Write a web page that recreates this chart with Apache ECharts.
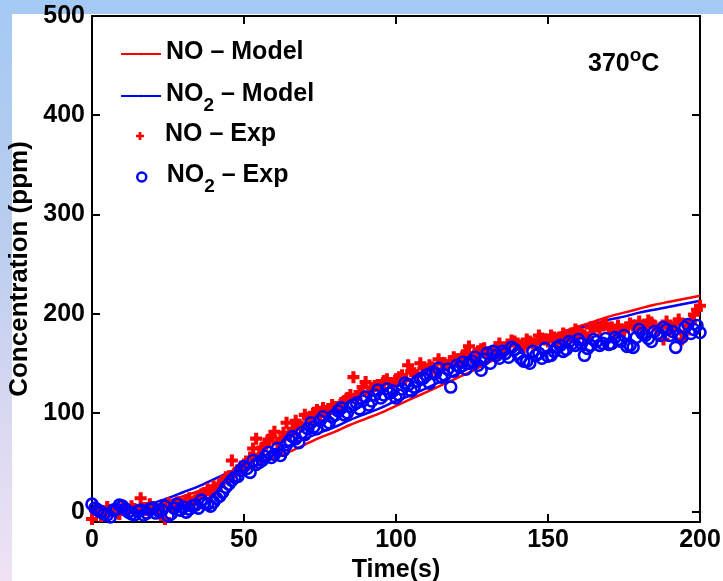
<!DOCTYPE html>
<html><head><meta charset="utf-8">
<script src="https://cdn.jsdelivr.net/npm/echarts@6/dist/echarts.min.js"></script>
<style>
html,body{margin:0;padding:0;width:723px;height:581px;overflow:hidden;}
body{background:linear-gradient(to bottom,#a4c9f4 0%,#b9cdee 40%,#dcd9f2 75%,#efe2f4 100%);}
#panel{position:absolute;left:12px;top:14px;right:0;bottom:0;background:#fff;}
#chart{position:absolute;left:0;top:0;width:723px;height:581px;}
</style></head><body><div id="panel"></div><div id="chart"></div>
<script>
// ---- data ----
const xTicks = [0, 50, 100, 150, 200];
const yTicks = [0, 100, 200, 300, 400, 500];

const modelTime = [0,5,10,15,20,25,30,35,40,45,50,55,60,65,70,75,80,85,90,95,100,105,110,115,120,125,130,135,140,145,150,155,160,165,170,175,180,185,190,195,200];
const noModel   = [0,0,0.5,2,6,11,16,21,27,34,41,48,55,61,68,75,81,88,94,100,107,114,121,128,135,142,150,157,164,170,176,182,187,192,197,201,205,209,212,215,218];
const no2Model  = [0,0.5,1.5,4,9,14,20,26,33,40,47,54,61,67,74,80,86,93,99,105,112,118,125,132,139,146,152,158,164,170,175,180,185,189,194,197,201,204,207,210,213];

// experiment, even seconds
const expTimeEven = [0,2,4,6,8,10,12,14,16,18,20,22,24,26,28,30,32,34,36,38,40,42,44,46,48,50,52,54,56,58,60,62,64,66,68,70,72,74,76,78,80,82,84,86,88,90,92,94,96,98,100,102,104,106,108,110,112,114,116,118,120,122,124,126,128,130,132,134,136,138,140,142,144,146,148,150,152,154,156,158,160,162,164,166,168,170,172,174,176,178,180,182,184,186,188,190,192,194,196,198,200];
const noExpEven  = [-7,3,-3,2,-1,4,0,3,14,2,5,1,-7,6,10,8,14,12,18,23,26,28,35,52,42,48,55,74,65,73,81,72,90,84,88,98,92,103,105,100,106,110,115,136,121,131,125,128,132,130,134,138,148,140,150,144,146,154,150,152,154,158,167,160,164,158,162,170,166,173,170,166,172,170,175,172,176,174,178,176,182,178,186,187,189,185,180,184,186,188,192,187,191,184,174,186,190,174,188,199,208];
const no2ExpEven = [8,2,-2,-5,3,6,0,-3,2,-1,4,1,6,-2,8,5,3,7,12,8,10,16,25,32,36,46,40,48,52,60,58,57,68,76,70,78,90,84,96,90,98,105,100,108,104,116,112,123,118,120,115,124,128,126,134,138,141,145,138,126,148,151,150,156,143,160,162,155,160,166,160,152,150,158,155,157,162,168,164,170,174,158,168,172,170,169,176,172,167,166,184,178,172,180,186,178,166,176,189,184,181];
// experiment, odd seconds
const expTimeOdd = [1,3,5,7,9,11,13,15,17,19,21,23,25,27,29,31,33,35,37,39,41,43,45,47,49,51,53,55,57,59,61,63,65,67,69,71,73,75,77,79,81,83,85,87,89,91,93,95,97,99,101,103,105,107,109,111,113,115,117,119,121,123,125,127,129,131,133,135,137,139,141,143,145,147,149,151,153,155,157,159,161,163,165,167,169,171,173,175,177,179,181,183,185,187,189,191,193,195,197,199];
const noExpOdd  = [2,-4,5,1,-2,3,6,0,4,8,2,5,9,3,7,12,9,15,19,18,24,31,36,40,46,50,64,58,68,76,70,80,78,92,86,95,100,97,102,108,104,112,118,114,126,120,127,124,134,128,136,133,142,138,145,148,142,150,148,156,150,160,155,162,165,160,166,164,168,172,168,174,170,178,174,178,172,180,177,184,180,176,186,184,190,186,188,183,190,186,184,193,188,186,192,184,194,180,192,204];
const no2ExpOdd = [4,0,-3,2,7,3,-2,1,-3,3,-1,2,-4,4,2,0,6,4,9,6,14,20,28,35,42,44,52,50,56,55,64,62,72,74,80,84,86,92,88,96,102,98,106,110,112,108,118,115,124,122,118,130,122,132,135,130,140,136,144,142,146,144,152,148,154,150,158,162,156,164,155,152,162,160,165,158,166,162,172,168,170,165,174,168,175,170,174,178,168,176,180,175,182,178,184,182,178,186,180,188];

const NAMES = ['NO \u2013 Model', 'NO2 \u2013 Model', 'NO \u2013 Exp', 'NO2 \u2013 Exp'];
const FONT = "'Liberation Sans', Arial, Helvetica, sans-serif";
const zip = (xs, ys) => xs.map((x, i) => [x, ys[i]]);
const PLUS = 'path://M3.3,0H6.7V3.3H10V6.7H6.7V10H3.3V6.7H0V3.3H3.3Z';

const legendRich = {
  a: {fontSize: 25, fontWeight: 'bold', fontFamily: FONT, color: '#000', lineHeight: 28, verticalAlign: 'top'},
  s: {fontSize: 19, fontWeight: 'bold', fontFamily: FONT, color: '#000', lineHeight: 20, padding: [19, 0, 0, 0]}
};
function fmt(name) {
  if (name.indexOf('NO2') === 0) return '{a|NO}{s|2}{a|' + name.slice(3) + '}';
  return '{a|' + name + '}';
}
function mkLegend(name, left, top, ih, extra) {
  return Object.assign({
    data: [name], left: left, top: top, orient: 'vertical', padding: 0,
    itemWidth: 40, itemHeight: ih, selectedMode: false,
    formatter: fmt, textStyle: {rich: legendRich, fontSize: 25, fontWeight: 'bold', fontFamily: FONT}
  }, extra || {});
}

const chart = echarts.init(document.getElementById('chart'), null, {renderer: 'canvas'});
const axisLine = {show: true, onZero: false, lineStyle: {color: '#000', width: 2}};
const tick = {show: true, inside: true, length: 8, lineStyle: {color: '#000', width: 2}};
const lab = {color: '#000', fontSize: 25, fontWeight: 'bold', fontFamily: FONT};

chart.setOption({
  animation: false,
  backgroundColor: 'transparent',
  grid: {left: 92, right: 23, top: 16, bottom: 59, show: false, containLabel: false, outerBoundsMode: 'none'},
  xAxis: [
    {type: 'value', min: 0, max: 200, interval: 50, position: 'bottom',
     axisLine: axisLine, axisTick: tick, splitLine: {show: false},
     axisLabel: Object.assign({margin: 6}, lab),
     name: 'Time(s)', nameLocation: 'middle', nameGap: 31,
     nameTextStyle: {color: '#000', fontSize: 25, fontWeight: 'bold', fontFamily: FONT}},
    {type: 'value', min: 0, max: 200, interval: 50, position: 'top',
     axisLine: axisLine, axisTick: tick, splitLine: {show: false}, axisLabel: {show: false}}
  ],
  yAxis: [
    {type: 'value', min: -10, max: 500, position: 'left',
     axisLine: axisLine, axisTick: Object.assign({customValues: yTicks}, tick), splitLine: {show: false},
     axisLabel: Object.assign({margin: 7, customValues: yTicks}, lab),
     name: 'Concentration (ppm)', nameLocation: 'middle', nameGap: 56,
     nameTextStyle: {color: '#000', fontSize: 26, fontWeight: 'bold', fontFamily: FONT}},
    {type: 'value', min: -10, max: 500, position: 'right',
     axisLine: axisLine, axisTick: Object.assign({customValues: yTicks}, tick), splitLine: {show: false},
     axisLabel: {show: false}}
  ],
  legend: [
    mkLegend(NAMES[0], 120, 40, 3),
    mkLegend(NAMES[1], 120, 77, 3),
    mkLegend(NAMES[2], 136, 122, 8),
    mkLegend(NAMES[3], 136, 158, 9, {itemStyle: {borderWidth: 2.5}})
  ],
  graphic: [{
    type: 'text', left: 588, top: 44, z: 100,
    style: {
      text: '{a|370}{o|o}{a|C}',
      rich: {
        a: {fontSize: 25, fontWeight: 'bold', fontFamily: FONT, fill: '#000', lineHeight: 28, padding: [8, 0, 0, 0]},
        o: {fontSize: 19, fontWeight: 'bold', fontFamily: FONT, fill: '#000', lineHeight: 20, verticalAlign: 'top'}
      }
    }
  }],
  series: [
    {name: NAMES[0], type: 'line', data: zip(modelTime, noModel), showSymbol: false, symbol: 'none', smooth: 0.3,
     legendIcon: 'rect', color: '#ff0000', itemStyle: {color: '#ff0000'}, lineStyle: {color: '#ff0000', width: 2.5}, z: 2},
    {name: NAMES[1], type: 'line', data: zip(modelTime, no2Model), showSymbol: false, symbol: 'none', smooth: 0.3,
     legendIcon: 'rect', color: '#0000ff', itemStyle: {color: '#0000ff'}, lineStyle: {color: '#0000ff', width: 2.5}, z: 2},
    {name: NAMES[2], type: 'scatter', data: zip(expTimeEven, noExpEven).concat(zip(expTimeOdd, noExpOdd)),
     symbol: PLUS, symbolSize: 12, symbolKeepAspect: true,
     itemStyle: {color: '#ff0000', opacity: 1}, z: 3},
    {name: NAMES[3], type: 'scatter', data: zip(expTimeEven, no2ExpEven).concat(zip(expTimeOdd, no2ExpOdd)),
     symbol: 'circle', symbolSize: 11,
     itemStyle: {color: 'rgba(255,255,255,0)', borderColor: '#0000ff', borderWidth: 2.6, opacity: 1}, z: 4}
  ]
});
</script></body></html>
